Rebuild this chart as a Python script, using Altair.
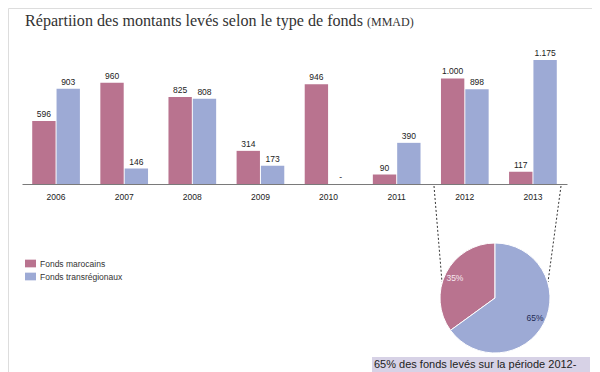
import altair as alt
import pandas as pd

years = ["2006", "2007", "2008", "2009", "2010", "2011", "2012", "2013"]
marocains = [596, 960, 825, 314, 946, 90, 1000, 117]
transregionaux = [903, 146, 808, 173, 0, 390, 898, 1175]
lab_maroc = ["596", "960", "825", "314", "946", "90", "1.000", "117"]
lab_trans = ["903", "146", "808", "173", "-", "390", "898", "1.175"]
series = ["Fonds marocains", "Fonds transrégionaux"]
colors = ["#B9738F", "#9DAAD5"]
pie_values = [35, 65]
pie_labels = ["35%", "65%"]
pie_order = [2, 1]
pie_text_colors = ["#F6E9F0", "#1F2A55"]
title_main = "Répartiion des montants levés selon le type de fonds"
title_unit = "(MMAD)"
note = "65% des fonds levés sur la période 2012-"

O = 8  # page margin
W, H = 584, 364

rows = []
for i, yr in enumerate(years):
    rows.append(dict(year=yr, series=series[0], value=marocains[i], label=lab_maroc[i]))
    rows.append(dict(year=yr, series=series[1], value=transregionaux[i], label=lab_trans[i]))
bars_df = pd.DataFrame(rows)

pie_df = pd.DataFrame(dict(series=series, value=pie_values, label=pie_labels,
                           ord=pie_order, tc=pie_text_colors))
one = pd.DataFrame({"a": [0]})

color_scale = alt.Scale(domain=series, range=colors)
x_scale = alt.Scale(domain=years, range=[22 - O, 567 - O], paddingInner=0, paddingOuter=0)
xo_scale = alt.Scale(domain=series, paddingOuter=0.42, paddingInner=0.04)
y_scale = alt.Scale(domain=[0, 1175], range=[184 - O, 60 - O], nice=False, zero=True)

base = alt.Chart(bars_df)
bars = base.mark_bar().encode(
    x=alt.X("year:N", scale=x_scale, sort=years,
            axis=alt.Axis(title=None, domainColor="#7a7a7a", domainWidth=1, ticks=False,
                          labelAngle=0, labelFont="Liberation Sans", labelFontSize=8.5,
                          labelColor="#222222", labelPadding=8, grid=False,
                          offset=-(H - (184 - O)))),
    xOffset=alt.XOffset("series:N", scale=xo_scale, sort=series),
    y=alt.Y("value:Q", scale=y_scale, axis=None),
    color=alt.Color("series:N", scale=color_scale, sort=series,
                    legend=alt.Legend(orient="none", legendX=25 - O, legendY=258 - O,
                                      title=None, padding=0,
                                      symbolType="M-1,-0.7H1V0.7H-1Z", symbolSize=121,
                                      symbolStrokeWidth=0, symbolOpacity=1,
                                      labelFont="Liberation Sans", labelFontSize=8.5,
                                      labelColor="#333333", rowPadding=3, labelOffset=4)),
)
labels = base.mark_text(baseline="bottom", dy=-2, font="Liberation Sans", fontSize=8.5,
                        color="#222222").encode(
    x=alt.X("year:N", scale=x_scale, sort=years),
    xOffset=alt.XOffset("series:N", scale=xo_scale, sort=series),
    y=alt.Y("value:Q", scale=y_scale, axis=None),
    text="label:N",
)

cx, cy = 495 - O, 298 - O
arc = alt.Chart(pie_df).mark_arc(radius=55, stroke="white", strokeWidth=1).encode(
    theta=alt.Theta("value:Q", stack=True),
    color=alt.Color("series:N", scale=color_scale, legend=None),
    order=alt.Order("ord:Q"),
    x=alt.value(cx), y=alt.value(cy),
)
arc_text = alt.Chart(pie_df).mark_text(radius=45, font="Liberation Sans", fontSize=8.5).encode(
    theta=alt.Theta("value:Q", stack=True),
    order=alt.Order("ord:Q"),
    text="label:N",
    fill=alt.Fill("tc:N", scale=None),
    x=alt.value(cx), y=alt.value(cy),
)

dash_left = alt.Chart(one).mark_rule(color="#333333", strokeWidth=1, strokeDash=[2, 2]).encode(
    x=alt.value(434 - O), y=alt.value(186 - O), x2=alt.value(442 - O), y2=alt.value(282 - O))
dash_right = alt.Chart(one).mark_rule(color="#333333", strokeWidth=1, strokeDash=[2, 2]).encode(
    x=alt.value(561 - O), y=alt.value(186 - O), x2=alt.value(548 - O), y2=alt.value(282 - O))

box = alt.Chart(one).mark_rect(color="#D7D2E6").encode(
    x=alt.value(372 - O), x2=alt.value(590 - O), y=alt.value(357 - O), y2=alt.value(H))
box_text = alt.Chart(one).mark_text(align="left", baseline="alphabetic", font="Liberation Sans",
                                    fontSize=11, color="#222222").encode(
    x=alt.value(374 - O), y=alt.value(368 - O), text=alt.value(note))

t1 = alt.Chart(one).mark_text(align="left", baseline="alphabetic", font="Liberation Serif",
                              fontSize=16.1, color="#333333").encode(
    x=alt.value(25 - O), y=alt.value(26 - O), text=alt.value(title_main))
t2 = alt.Chart(one).mark_text(align="left", baseline="alphabetic", font="Liberation Serif",
                              fontSize=12, color="#333333").encode(
    x=alt.value(367 - O), y=alt.value(26 - O), text=alt.value(title_unit))

chart = alt.layer(
    box, box_text, bars, labels, dash_left, dash_right, arc, arc_text, t1, t2
).properties(
    width=W, height=H, padding=0, autosize=alt.AutoSizeParams(type="none")
).configure_view(stroke=None).configure(background="white")

chart.save("out.html", embed_options={"renderer": "svg", "actions": False})
